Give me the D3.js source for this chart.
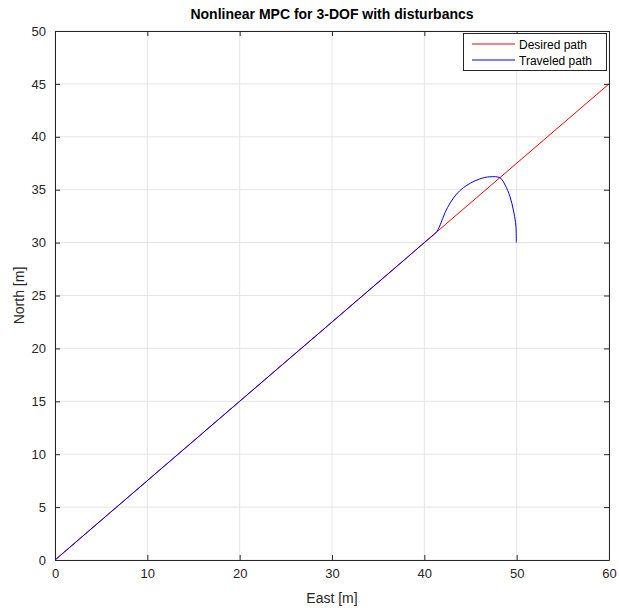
<!DOCTYPE html>
<html><head><meta charset="utf-8">
<script src="https://cdn.jsdelivr.net/npm/d3@7"></script>
<style>body{margin:0;background:#fff;} svg{display:block;font-family:"Liberation Sans",Arial,Helvetica,sans-serif;}</style>
</head><body>
<script>
const desiredX = [0, 60];
const desiredY = [0, 45];
const traveledX = [0, 20, 40, 41.35, 41.75, 42.25, 42.8, 43.5, 44.25, 45.0, 46.0, 47.1, 48.2, 48.75, 49.28, 49.64, 49.88, 49.95, 49.96];
const traveledY = [0, 15, 30, 31.05, 31.75, 32.85, 33.75, 34.6, 35.2, 35.62, 36.02, 36.22, 36.12, 35.44, 34.34, 33.08, 31.9, 31.0, 30.0];
const xTicks = [0, 10, 20, 30, 40, 50, 60];
const yTicks = [0, 5, 10, 15, 20, 25, 30, 35, 40, 45, 50];
const legendLabels = ["Desired path", "Traveled path"];
const colors = ["#ff0000", "#0000ff"];

const W = 619, H = 608;
const m = {l: 55, r: 10, t: 31, b: 48};
const svg = d3.select("body").append("svg").attr("width", W).attr("height", H);
const x = d3.scaleLinear().domain([0, 60]).range([m.l, W - m.r]);
const y = d3.scaleLinear().domain([0, 50]).range([H - m.b, m.t]);

// grid
svg.append("g").selectAll("line").data(xTicks).join("line")
  .attr("x1", d => x(d)).attr("x2", d => x(d)).attr("y1", y(0)).attr("y2", y(50))
  .attr("stroke", "#e5e5e5").attr("stroke-width", 1);
svg.append("g").selectAll("line").data(yTicks).join("line")
  .attr("y1", d => y(d)).attr("y2", d => y(d)).attr("x1", x(0)).attr("x2", x(60))
  .attr("stroke", "#e5e5e5").attr("stroke-width", 1);

const line = d3.line().x(d => x(d[0])).y(d => y(d[1])).curve(d3.curveCatmullRom.alpha(0.5));
const dData = desiredX.map((v, i) => [v, desiredY[i]]);
const tData = traveledX.map((v, i) => [v, traveledY[i]]);
svg.append("path").datum(dData).attr("d", d3.line().x(d => x(d[0])).y(d => y(d[1])))
  .attr("fill", "none").attr("stroke", colors[0]).attr("stroke-width", 1);
svg.append("path").datum(tData).attr("d", line)
  .attr("fill", "none").attr("stroke", colors[1]).attr("stroke-width", 1);

// axes
const ax = "#262626";
const xb = svg.append("g").attr("transform", `translate(0,${y(0)})`)
  .call(d3.axisBottom(x).tickValues(xTicks).tickSizeInner(-5).tickSizeOuter(0).tickPadding(9));
const yl = svg.append("g").attr("transform", `translate(${x(0)},0)`)
  .call(d3.axisLeft(y).tickValues(yTicks).tickSizeInner(-5).tickSizeOuter(0).tickPadding(9));
const xt = svg.append("g").attr("transform", `translate(0,${y(50)})`)
  .call(d3.axisTop(x).tickValues(xTicks).tickSizeInner(-5).tickSizeOuter(0).tickFormat(""));
const yr = svg.append("g").attr("transform", `translate(${x(60)},0)`)
  .call(d3.axisRight(y).tickValues(yTicks).tickSizeInner(-5).tickSizeOuter(0).tickFormat(""));
[xb, yl, xt, yr].forEach(g => {
  g.selectAll("path").attr("stroke", ax);
  g.selectAll("line").attr("stroke", ax);
  g.selectAll("text").attr("fill", ax).style("font-size", "13px").style("font-family", "'Liberation Sans',Arial,sans-serif");
});

// labels
svg.append("text").attr("x", (x(0) + x(60)) / 2).attr("y", 19).attr("text-anchor", "middle")
  .style("font-size", "14px").style("font-weight", "bold").attr("fill", "#000")
  .text("Nonlinear MPC for 3-DOF with disturbancs");
svg.append("text").attr("x", (x(0) + x(60)) / 2).attr("y", 603).attr("text-anchor", "middle")
  .style("font-size", "14px").attr("fill", ax).text("East [m]");
svg.append("text").attr("transform", `translate(24,${(y(0) + y(50)) / 2}) rotate(-90)`).attr("text-anchor", "middle")
  .style("font-size", "14px").attr("fill", ax).text("North [m]");

// legend
const lg = svg.append("g");
lg.append("rect").attr("x", 463.5).attr("y", 33.5).attr("width", 143).attr("height", 37)
  .attr("fill", "#fff").attr("stroke", ax).attr("stroke-width", 1);
legendLabels.forEach((t, i) => {
  const yy = 44 + i * 16;
  lg.append("line").attr("x1", 472).attr("x2", 515).attr("y1", yy).attr("y2", yy).attr("stroke", colors[i]);
  lg.append("text").attr("x", 519).attr("y", yy + 4.5).style("font-size", "12px").attr("fill", "#000").text(t);
});
</script>
</body></html>
